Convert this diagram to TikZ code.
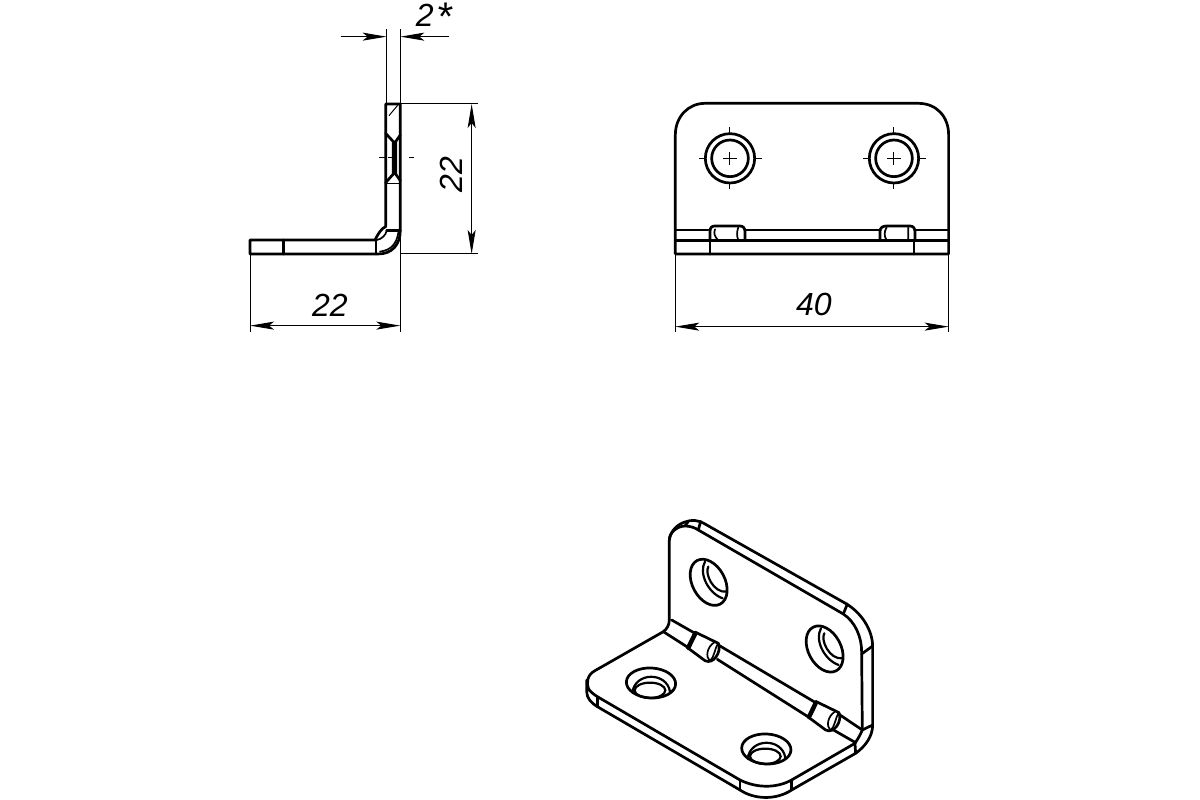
\documentclass[tikz,border=0pt]{standalone}
\usepackage{fontspec}
\setmainfont{Liberation Sans}
\usetikzlibrary{arrows.meta}
\tikzset{
 thick line/.style={line width=2.7pt,line join=round,line cap=round},
 hole line/.style={line width=2.2pt,line cap=round},
 mid line/.style={line width=1.7pt,line cap=round},
 thin line/.style={line width=1pt},
 dimline/.style={line width=1pt,{Stealth[length=24pt,width=8pt,inset=5pt]}-{Stealth[length=24pt,width=8pt,inset=5pt]}},
 dimend/.style={line width=1pt,-{Stealth[length=24pt,width=8pt,inset=5pt]}},
 dimtext/.style={font=\fontsize{32}{32}\selectfont\itshape,inner sep=0pt}
}
\begin{document}
\begin{tikzpicture}[x=1pt,y=-1pt]
\useasboundingbox (0,0) rectangle (1200,800);
\fill[white] (0,0) rectangle (1200,800);
% side view
\begin{scope}[shift={(230,0)},x=0.3333pt,y=-0.3333pt]
\draw[thick line] (467,312)--(511,312)--(511,690) .. controls (511,735) and (485,762) .. (445,762)--(60,762)--(60,720)--(435,720) .. controls (445,700) and (455,685) .. (467,680)--cycle;
\draw[thick line] (160,720)--(160,762) (438,720)--(438,762) (470,692)--(511,692);
\draw[mid line] (440,720) .. controls (455,718) and (468,705) .. (470,692);
\draw[mid line] (450,755) .. controls (485,750) and (500,730) .. (505,698);
\draw[thin line] (477,347)--(503,316);
\draw[thick line] (467,400)--(490,425)--(490,522)--(467,548) (511,405)--(497,425)--(497,522)--(511,542);
\draw[thin line] (470,550)--(511,550) (448,472)--(465,472) (475,472)--(495,472) (538,472)--(552,472);
\draw[thin line] (470,88)--(470,312) (511,88)--(511,312);
\draw[dimend] (332,110)--(470,110);
\draw[dimend] (658,110)--(511,110);
\node[dimtext] (tstar) at (612,50) {2\hspace{3pt}\raisebox{-4pt}{\fontsize{40}{40}\selectfont *}};
\draw[thin line] (511,312)--(745,312) (511,762)--(745,762) (511,700)--(511,762);
\draw[dimline] (725,312)--(725,762);
\node[dimtext,rotate=90] (theight) at (665,525) {22};
\draw[thin line] (60,762)--(60,995) (511,762)--(511,995);
\draw[dimline] (60,977)--(511,977);
\node[dimtext] (twidth) at (300,917) {22};
\end{scope}
% front view
\begin{scope}[shift={(660,90)},x=0.3333pt,y=-0.3333pt]
\draw[thick line] (46,492)--(46,135) .. controls (46,80) and (85,40) .. (135,40)--(775,40) .. controls (830,40) and (866,80) .. (866,135)--(866,492)--cycle;
\draw[thick line] (46,420)--(145,420) (255,420)--(660,420) (765,420)--(866,420) (46,452)--(866,452) (150,452)--(150,492) (762,452)--(762,492);
\draw[thick line] (150,452)--(150,425) .. controls (150,413) and (155,408) .. (165,408)--(240,408) .. controls (250,408) and (255,415) .. (255,425)--(255,452);
\draw[thick line] (660,452)--(660,425) .. controls (660,413) and (668,408) .. (680,408)--(750,408) .. controls (760,408) and (765,415) .. (765,425)--(765,452);
\draw[mid line] (165,418) .. controls (160,430) and (165,440) .. (172,448) (235,412) .. controls (230,425) and (230,440) .. (235,450) (680,412) .. controls (672,425) and (672,440) .. (680,450) (745,412)--(745,450);
\foreach \cx in {210,702}{
 \draw[thick line] (\cx,205) circle [radius=74];
 \draw[thick line] (\cx,205) circle [radius=55];
 \draw[thin line] (\cx-20,205)--(\cx+20,205) (\cx,185)--(\cx,225) (\cx-92,205)--(\cx-75,205) (\cx+75,205)--(\cx+95,205) (\cx,112)--(\cx,130) (\cx,280)--(\cx,298);
}
\draw[thin line] (46,492)--(46,725) (866,492)--(866,725);
\draw[dimline] (46,710)--(866,710);
\node[dimtext] (fwidth) at (462,645) {40};
\end{scope}
% isometric view
\begin{scope}[shift={(570,510)},x=0.3333pt,y=-0.3333pt]
% upper flange
\draw[thick line] (298,330)--(298,90) .. controls (298,65) and (325,48) .. (345,48) .. controls (360,48) and (375,53) .. (385,60)--(820,312) .. controls (855,335) and (875,380) .. (875,425)--(877,660);
\draw[thick line] (298,90) .. controls (302,60) and (325,42) .. (345,36) .. controls (365,28) and (385,30) .. (405,42)--(830,282) .. controls (875,310) and (908,360) .. (908,410)--(908,645) .. controls (908,680) and (885,710) .. (857,730);
\draw[thick line] (345,48)--(355,34) (385,60)--(392,34) (820,312)--(832,282) (875,432)--(908,408) (877,660)--(908,645);
% lower flange
\draw[thick line] (298,330) .. controls (298,345) and (290,358) .. (280,365)--(75,482) .. controls (50,495) and (50,520) .. (55,535) .. controls (60,545) and (70,552) .. (82,560)--(510,810) .. controls (560,835) and (620,835) .. (665,810)--(855,700)--(857,730)--(665,840) .. controls (620,870) and (555,870) .. (510,840)--(82,590) .. controls (65,580) and (50,565) .. (50,545)--(50,510);
\draw[thick line] (82,560)--(82,590) (510,810)--(510,840) (665,810)--(665,840);
\draw[thick line] (855,700) .. controls (865,685) and (872,672) .. (877,660);
% bend lines and bumps
\draw[thick line] (305,330)--(375,370) (445,405)--(737,578) (807,613)--(877,660);
\draw[thick line] (280,365)--(355,413) (442,448)--(717,622) (787,658)--(855,697);
\foreach \dx/\dy in {0/0,362/208}{
 \begin{scope}[shift={(\dx,\dy)}]
 \draw[thick line,line width=4.5pt] (375,372)--(355,413);
 \draw[thick line] (375,366)--(445,400) .. controls (456,425) and (430,465) .. (405,452)--(355,415);
 \draw[mid line] (433,397) .. controls (412,410) and (405,440) .. (420,454) (443,402) .. controls (435,415) and (433,440) .. (420,454);
 \end{scope}
}
% holes in the upper flange
\foreach \dx/\dy in {0/0,348/200}{
 \begin{scope}[shift={(\dx,\dy)}]
 \draw[thick line,rotate around={-62:(416,217)}] (416,217) ellipse [x radius=74,y radius=49];
 \draw[hole line] (405,155) .. controls (385,190) and (415,250) .. (458,265);
 \draw[hole line] (415,170) .. controls (403,190) and (430,250) .. (470,245);
 \end{scope}
}
% holes in the lower flange
\foreach \dx/\dy in {0/0,346/198}{
 \begin{scope}[shift={(\dx,\dy)}]
 \draw[thick line,rotate around={-3:(243,519)}] (243,519) ellipse [x radius=74,y radius=45];
 \draw[hole line] (187,548) .. controls (195,485) and (290,485) .. (300,545);
 \draw[hole line] (240,541) ellipse [x radius=46,y radius=23];
 \end{scope}
}
\end{scope}
\end{tikzpicture}
\end{document}
